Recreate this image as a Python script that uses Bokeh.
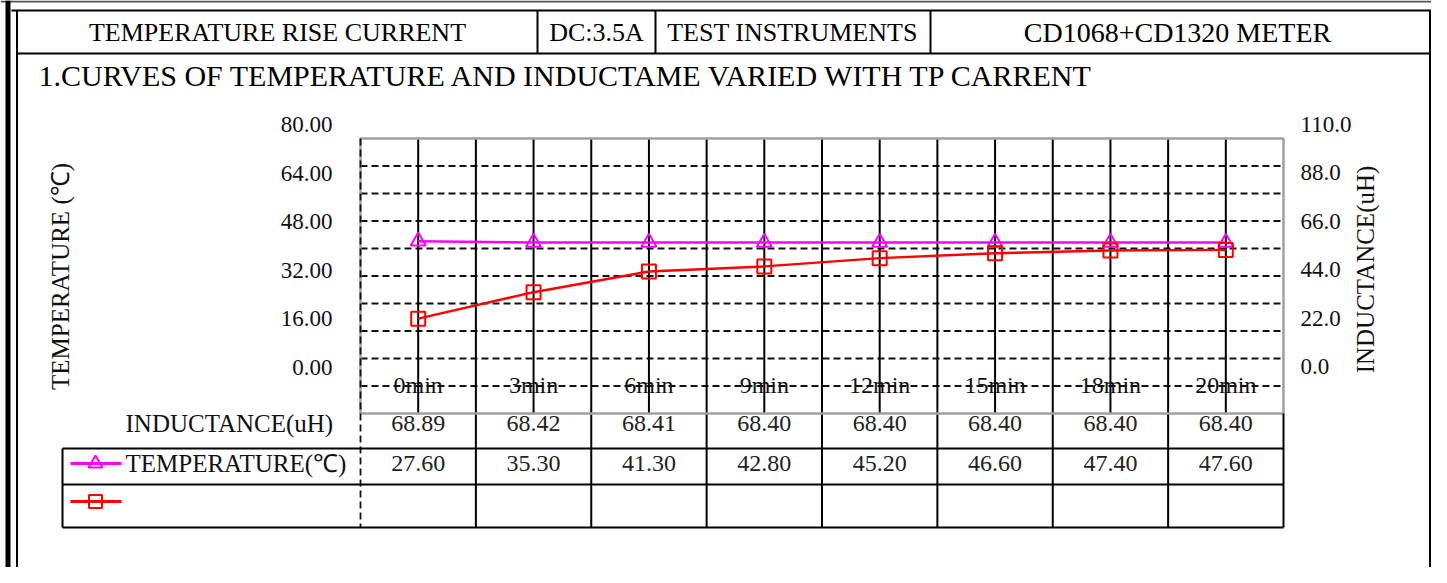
import math
from bokeh.plotting import figure
from bokeh.models import Range1d, ColumnDataSource
from bokeh.core.properties import value
from bokeh.embed import file_html
from bokeh.resources import INLINE

# ---------------- data ----------------
categories = ["0min", "3min", "6min", "9min", "12min", "15min", "18min", "20min"]
temperature = [27.60, 35.30, 41.30, 42.80, 45.20, 46.60, 47.40, 47.60]
inductance = [68.89, 68.42, 68.41, 68.40, 68.40, 68.40, 68.40, 68.40]
temp_ticks = [0, 16, 32, 48, 64, 80]
ind_ticks = [0, 22, 44, 66, 88, 110]
header_cells = ["TEMPERATURE RISE CURRENT", "DC:3.5A", "TEST INSTRUMENTS", "CD1068+CD1320 METER"]
chart_title = "1.CURVES OF TEMPERATURE AND INDUCTAME VARIED WITH TP CARRENT"
left_title = "TEMPERATURE (\u2103)"
right_title = "INDUCTANCE(uH)"
row_labels = ["INDUCTANCE(uH)", "TEMPERATURE(\u2103)"]

# ---------------- layout (picture pixel coordinates) ----------------
W, H = 1431, 567
OX, OY = 0, 0
PL, PR, PT, PB = 360, 1283, 138, 413          # plot area box
TEMP_MAX, IND_MAX = 80, 110
FONT = value("Liberation Serif")
n = len(categories)


def lin_range(v0, p0, v1, p1, pstart, pend):
    k = (v1 - v0) / (p1 - p0)
    return Range1d(start=v0 + (pstart - p0) * k, end=v0 + (pend - p0) * k)


p = figure(width=W, height=H, output_backend="svg", toolbar_location=None,
           x_range=Range1d(OX, OX + W), y_range=Range1d(OY + H, OY),
           x_axis_location=None, y_axis_location=None, min_border=0)
p.grid.visible = False
p.outline_line_color = None
p.background_fill_color = "white"
p.border_fill_color = "white"

p.extra_x_ranges = {"cat": lin_range(-0.5, PL, n - 0.5, PR, OX, OX + W)}
p.extra_y_ranges = {
    "temp": lin_range(0, PB, TEMP_MAX, PT, OY + H, OY),
    "ind": lin_range(0, PB, IND_MAX, PT, OY + H, OY),
    "tlbl": lin_range(0, 367, TEMP_MAX, 124, OY + H, OY),
    "ilbl": lin_range(0, 366, IND_MAX, 124, OY + H, OY),
}

# ---------------- outer sheet frame ----------------
p.segment(x0=[0], x1=[1440], y0=[1], y1=[1], line_color="#555555", line_width=2)
p.quad(left=[5, 1438], right=[10, 1443], top=[0, 0], bottom=[590, 590],
       fill_color="black", line_color=None)
p.segment(x0=[16.5, 1429.5, 11, 17], y0=[10, 10, 10, 53],
          x1=[16.5, 1429.5, 1438, 1430], y1=[590, 590, 10, 53],
          line_color="black", line_width=2)
p.segment(x0=[537, 655, 930], y0=[10, 10, 10], x1=[537, 655, 930], y1=[53, 53, 53],
          line_color="black", line_width=2)

p.text(x=[277, 596, 792], y=[32, 32, 32], text=header_cells[:3],
       text_font=FONT, text_font_size="26px", text_align="center",
       text_baseline="middle", text_color="black")
p.text(x=[1177], y=[32], text=header_cells[3:],
       text_font=FONT, text_font_size="28px", text_align="center",
       text_baseline="middle", text_color="black")
p.text(x=[38], y=[75], text=[chart_title], text_font=FONT, text_font_size="30px",
       text_align="left", text_baseline="middle", text_color="black")

# ---------------- plot area ----------------
grid_vals = list(range(8, TEMP_MAX, 8))
p.segment(x0=[-0.5] * len(grid_vals), x1=[n - 0.5] * len(grid_vals),
          y0=grid_vals, y1=grid_vals, x_range_name="cat", y_range_name="temp",
          line_color="#111111", line_width=1.8, line_dash="7 4")

centers = list(range(n))
p.segment(x0=centers, x1=centers, y0=[0] * n, y1=[TEMP_MAX] * n,
          x_range_name="cat", y_range_name="temp", line_color="black", line_width=2)
bounds = [i + 0.5 for i in range(n - 1)]
p.segment(x0=bounds, x1=bounds, y0=[PT] * len(bounds), y1=[527] * len(bounds),
          x_range_name="cat", line_color="black", line_width=2)

p.quad(left=[-0.5], right=[n - 0.5], bottom=[0], top=[TEMP_MAX],
       x_range_name="cat", y_range_name="temp",
       fill_color=None, line_color="#A0A0A0", line_width=2.5)
p.segment(x0=[-0.5], x1=[-0.5], y0=[PT], y1=[527], x_range_name="cat",
          line_color="#111111", line_width=1.8, line_dash="7 4")

# category labels
p.text(x=centers, y=[384] * n, text=categories, x_range_name="cat",
       text_font=FONT, text_font_size="24px", text_align="center",
       text_baseline="middle", text_color="#111111")

# series
src = ColumnDataSource(dict(x=centers, temp=temperature, ind=inductance))
p.line("x", "ind", source=src, x_range_name="cat", y_range_name="ind",
       line_color="#FF00FF", line_width=2.5)
p.scatter("x", "ind", source=src, x_range_name="cat", y_range_name="ind",
          marker="triangle", size=15, fill_color=None, line_color="#FF00FF", line_width=2)
p.line("x", "temp", source=src, x_range_name="cat", y_range_name="temp",
       line_color="#FF0000", line_width=2.5)
p.scatter("x", "temp", source=src, x_range_name="cat", y_range_name="temp",
          marker="square", size=14, fill_color=None, line_color="#FF0000", line_width=2)

# axis tick labels
p.text(x=[332] * len(temp_ticks), y=temp_ticks, text=["%.2f" % t for t in temp_ticks],
       y_range_name="tlbl", text_font=FONT, text_font_size="23px",
       text_align="right", text_baseline="middle", text_color="#111111")
p.text(x=[1300] * len(ind_ticks), y=ind_ticks, text=["%.1f" % t for t in ind_ticks],
       y_range_name="ilbl", text_font=FONT, text_font_size="23px",
       text_align="left", text_baseline="middle", text_color="#111111")

# axis titles
p.text(x=[60], y=[276], text=[left_title], angle=math.pi / 2,
       text_font=FONT, text_font_size="25px", text_align="center",
       text_baseline="middle", text_color="#111111")
p.text(x=[1365], y=[269], text=[right_title], angle=math.pi / 2,
       text_font=FONT, text_font_size="25px", text_align="center",
       text_baseline="middle", text_color="#111111")

# ---------------- data table ----------------
p.segment(x0=[62, 62, 62], x1=[PR, PR, PR], y0=[448, 484, 527], y1=[448, 484, 527],
          line_color="black", line_width=2)
p.segment(x0=[62, PR], x1=[62, PR], y0=[448, PB], y1=[527, 527],
          line_color="black", line_width=2)

p.text(x=[125, 125], y=[423, 463], text=row_labels, text_font=FONT,
       text_font_size="25px", text_align="left", text_baseline="middle",
       text_color="#111111")
p.text(x=centers, y=[423] * n, text=["%.2f" % v for v in inductance], x_range_name="cat",
       text_font=FONT, text_font_size="24px", text_align="center",
       text_baseline="middle", text_color="#222222")
p.text(x=centers, y=[463] * n, text=["%.2f" % v for v in temperature], x_range_name="cat",
       text_font=FONT, text_font_size="24px", text_align="center",
       text_baseline="middle", text_color="#222222")

# legend keys inside table
p.segment(x0=[70, 70], x1=[121, 121], y0=[463, 501], y1=[463, 501],
          line_color=["#FF00FF", "#FF0000"], line_width=3)
p.scatter(x=[95], y=[463], marker="triangle", size=14, fill_color=None,
          line_color="#FF00FF", line_width=2)
p.scatter(x=[95], y=[501], marker="square", size=13, fill_color=None,
          line_color="#FF0000", line_width=2)

open("out.html", "w").write(file_html(p, INLINE))
